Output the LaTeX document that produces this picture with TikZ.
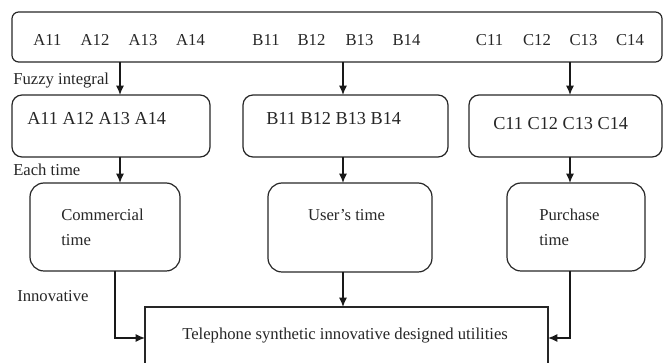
\documentclass[tikz,border=0pt]{standalone}
\usepackage{fontspec}
\setmainfont{Liberation Serif}
\usetikzlibrary{arrows.meta}
\begin{document}
\begin{tikzpicture}[x=0.75pt,y=-0.75pt,
  boxline/.style={draw=black!85,line width=0.9pt,inner sep=0pt,outer sep=0pt},
  txt/.style={inner sep=0pt,text=black!85,font=\fontsize{12.5}{15}\selectfont},
  bigtxt/.style={inner sep=0pt,text=black!85,font=\fontsize{13.7}{16}\selectfont},
  arr/.style={draw=black!90,line width=0.9pt,-{Latex[length=7pt,width=6pt]}}]
\useasboundingbox (0,0) rectangle (669,363);
\clip (0,0) rectangle (669,363);
% boxes
\node[boxline,rounded corners=5pt,minimum width=487.5pt,minimum height=37.5pt] (top) at (337,37) {};
\node[boxline,rounded corners=7.5pt,minimum width=148.5pt,minimum height=46.5pt] (a2) at (111,126) {};
\node[boxline,rounded corners=7.5pt,minimum width=153.75pt,minimum height=46.5pt] (b2) at (345.5,126) {};
\node[boxline,rounded corners=7.5pt,minimum width=144.75pt,minimum height=46.5pt] (c2) at (565.5,126) {};
\node[boxline,rounded corners=10.5pt,minimum width=112.5pt,minimum height=66pt] (a3) at (105,227) {};
\node[boxline,rounded corners=10.5pt,minimum width=123pt,minimum height=66.75pt] (b3) at (350,227.5) {};
\node[boxline,rounded corners=10.5pt,minimum width=103.5pt,minimum height=66pt] (c3) at (576,227) {};
\node[boxline,minimum width=302.25pt,minimum height=75pt] (bot) at (346.5,357) {};
% top row labels
\foreach \n/\t/\x in {t1/A11/47.5,t2/A12/95,t3/A13/143,t4/A14/190.5,
  t5/B11/266,t6/B12/311.5,t7/B13/359.5,t8/B14/406.5,
  t9/C11/489.5,t10/C12/537,t11/C13/583.5,t12/C14/630}
  \node[txt] (\n) at (\x,40) {\t};
% row 2 labels
\node[bigtxt,anchor=west] (la2) at (27,118.5) {A11 A12 A13 A14};
\node[bigtxt,anchor=west] (lb2) at (266,118.5) {B11 B12 B13 B14};
\node[bigtxt,anchor=west] (lc2) at (493,123.5) {C11 C12 C13 C14};
% row 3 labels
\node[txt,anchor=west] (la3a) at (61,215) {Commercial};
\node[txt,anchor=west] (la3b) at (61,240) {time};
\node[txt] (lb3) at (346.5,215) {User’s time};
\node[txt,anchor=west] (lc3a) at (539,215) {Purchase};
\node[txt,anchor=west] (lc3b) at (539,240) {time};
\node[txt,anchor=west] (lbot) at (182,335.5) {Telephone synthetic innovative designed utilities};
% side labels
\node[txt,anchor=west] (fuzzy) at (13,81) {Fuzzy integral};
\node[txt,anchor=west] (each) at (13,170) {Each time};
\node[txt,anchor=west] (innov) at (17,296) {Innovative};
% column coordinates
\coordinate (cA) at (120,0);
\coordinate (cB) at (343,0);
\coordinate (cC) at (570,0);
\coordinate (dA) at (115,338);
\coordinate (dC) at (570,338);
% connectors
\draw[arr] (top.south -| cA) -- (a2.north -| cA);
\draw[arr] (top.south -| cB) -- (b2.north -| cB);
\draw[arr] (top.south -| cC) -- (c2.north -| cC);
\draw[arr] (a2.south -| cA) -- (a3.north -| cA);
\draw[arr] (b2.south -| cB) -- (b3.north -| cB);
\draw[arr] (c2.south -| cC) -- (c3.north -| cC);
\draw[arr] (a3.south -| dA) -- (dA) -- (bot.west |- dA);
\draw[arr] (b3.south -| cB) -- (bot.north -| cB);
\draw[arr] (c3.south -| dC) -- (dC) -- (bot.east |- dC);
\end{tikzpicture}
\end{document}
